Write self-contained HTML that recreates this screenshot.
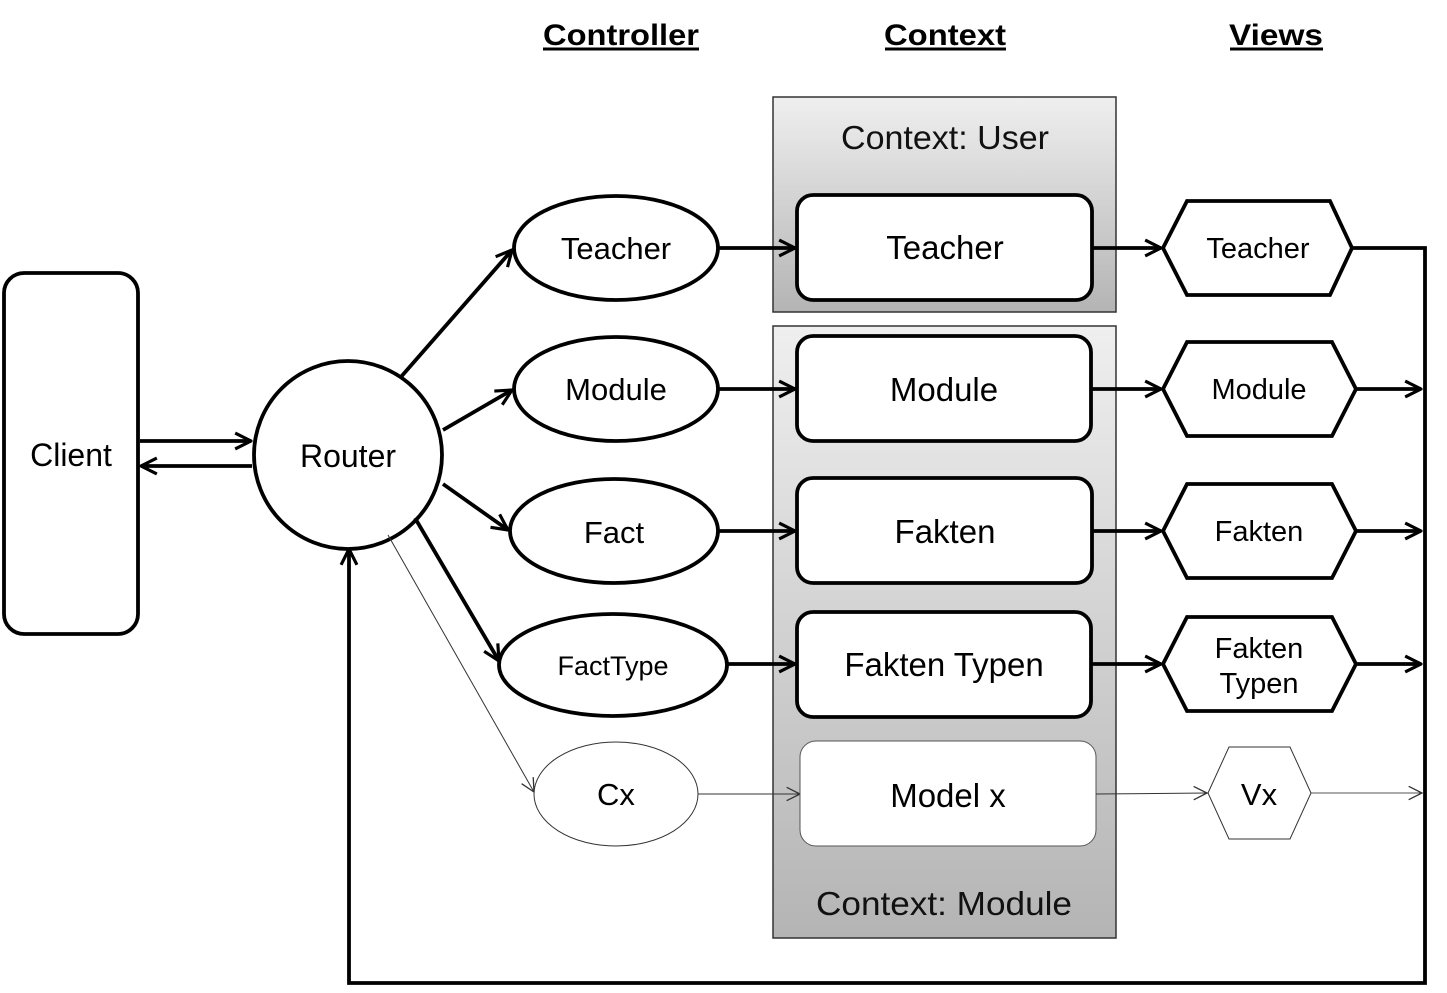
<!DOCTYPE html>
<html><head><meta charset="utf-8"><style>
html,body{margin:0;padding:0;background:#fff;}
svg{display:block;font-family:"Liberation Sans",sans-serif;}
</style></head><body>
<svg width="1447" height="993" viewBox="0 0 1447 993" xmlns="http://www.w3.org/2000/svg">
<defs>
<linearGradient id="g" x1="0" y1="0" x2="0" y2="1">
<stop offset="0" stop-color="#efefef"/><stop offset="1" stop-color="#b4b4b4"/>
</linearGradient>
<marker id="a" viewBox="0 0 12 12" refX="11" refY="6" markerWidth="5" markerHeight="5" orient="auto" markerUnits="strokeWidth">
<path d="M1,1 L11,6 L1,11" fill="none" stroke="#000" stroke-width="2"/>
</marker>
<marker id="t" viewBox="0 0 12 12" refX="11" refY="6" markerWidth="16" markerHeight="16" orient="auto" markerUnits="userSpaceOnUse">
<path d="M1,1 L11,6 L1,11" fill="none" stroke="#333" stroke-width="1"/>
</marker>
</defs>

<g font-weight="bold" font-size="30" text-anchor="middle">
<text x="621" y="45" textLength="156" lengthAdjust="spacingAndGlyphs">Controller</text>
<text x="945" y="45" textLength="122" lengthAdjust="spacingAndGlyphs">Context</text>
<text x="1276" y="45" textLength="94" lengthAdjust="spacingAndGlyphs">Views</text>
</g>
<g stroke="#000" stroke-width="3">
<line x1="543" y1="49" x2="699" y2="49"/>
<line x1="885" y1="49" x2="1006" y2="49"/>
<line x1="1230" y1="49" x2="1323" y2="49"/>
</g>

<rect x="773" y="97" width="343" height="215" fill="url(#g)" stroke="#333" stroke-width="1.5"/>
<rect x="773" y="326" width="343" height="612" fill="url(#g)" stroke="#333" stroke-width="1.5"/>
<text x="945" y="149" font-size="33" text-anchor="middle" fill="#111" textLength="208" lengthAdjust="spacingAndGlyphs">Context: User</text>
<text x="944" y="915" font-size="33" text-anchor="middle" fill="#111" textLength="256" lengthAdjust="spacingAndGlyphs">Context: Module</text>

<polyline points="1352,248 1425,248 1425,983 349,983 349,549" fill="none" stroke="#000" stroke-width="3.8" marker-end="url(#a)"/>

<rect x="4" y="273" width="134" height="361" rx="20" fill="#fff" stroke="#000" stroke-width="3.8"/>
<text x="71" y="466" font-size="32" text-anchor="middle">Client</text>
<line x1="140" y1="441" x2="251" y2="441" stroke="#000" stroke-width="3.8" marker-end="url(#a)"/>
<line x1="252" y1="466" x2="141" y2="466" stroke="#000" stroke-width="3.8" marker-end="url(#a)"/>

<circle cx="348" cy="455" r="94" fill="#fff" stroke="#000" stroke-width="3.8"/>
<text x="348" y="467" font-size="32" text-anchor="middle">Router</text>

<g stroke="#000" stroke-width="3.8" fill="none">
<line x1="400" y1="378" x2="512" y2="250" marker-end="url(#a)"/>
<line x1="443" y1="430" x2="512" y2="390" marker-end="url(#a)"/>
<line x1="443" y1="484" x2="508" y2="530" marker-end="url(#a)"/>
<line x1="415" y1="518" x2="499" y2="661" marker-end="url(#a)"/>
</g>
<line x1="388" y1="535" x2="534" y2="792" stroke="#333" stroke-width="1" marker-end="url(#t)"/>

<g fill="#fff" stroke="#000" stroke-width="3.8">
<ellipse cx="616" cy="248" rx="102" ry="52"/>
<ellipse cx="616" cy="389" rx="102" ry="52"/>
<ellipse cx="614" cy="531" rx="104" ry="52"/>
<ellipse cx="613" cy="665" rx="114" ry="51"/>
</g>
<ellipse cx="616" cy="794" rx="82" ry="52" fill="#fff" stroke="#333" stroke-width="1"/>
<g font-size="31" text-anchor="middle">
<text x="616" y="259">Teacher</text>
<text x="616" y="400">Module</text>
<text x="614" y="543">Fact</text>
<text x="613" y="675" font-size="27">FactType</text>
<text x="616" y="805">Cx</text>
</g>

<g stroke="#000" stroke-width="3.8" fill="none">
<line x1="718" y1="248" x2="795" y2="248" marker-end="url(#a)"/>
<line x1="718" y1="389" x2="795" y2="389" marker-end="url(#a)"/>
<line x1="718" y1="531" x2="795" y2="531" marker-end="url(#a)"/>
<line x1="727" y1="664" x2="795" y2="664" marker-end="url(#a)"/>
</g>
<line x1="698" y1="794" x2="800" y2="794" stroke="#333" stroke-width="1" marker-end="url(#t)"/>

<g fill="#fff" stroke="#000" stroke-width="3.8">
<rect x="797" y="195" width="295" height="105" rx="16"/>
<rect x="797" y="336" width="294" height="105" rx="16"/>
<rect x="797" y="478" width="295" height="105" rx="16"/>
<rect x="797" y="612" width="294" height="105" rx="16"/>
</g>
<rect x="800" y="741" width="296" height="105" rx="16" fill="#fff" stroke="#555" stroke-width="1"/>
<g font-size="33" text-anchor="middle">
<text x="945" y="259">Teacher</text>
<text x="944" y="401">Module</text>
<text x="945" y="543">Fakten</text>
<text x="944" y="676">Fakten Typen</text>
<text x="948" y="807">Model x</text>
</g>

<g stroke="#000" stroke-width="3.8" fill="none">
<line x1="1092" y1="248" x2="1161" y2="248" marker-end="url(#a)"/>
<line x1="1091" y1="389" x2="1161" y2="389" marker-end="url(#a)"/>
<line x1="1092" y1="531" x2="1161" y2="531" marker-end="url(#a)"/>
<line x1="1091" y1="664" x2="1161" y2="664" marker-end="url(#a)"/>
<line x1="1356" y1="389" x2="1421" y2="389" marker-end="url(#a)"/>
<line x1="1356" y1="531" x2="1421" y2="531" marker-end="url(#a)"/>
<line x1="1356" y1="664" x2="1421" y2="664" marker-end="url(#a)"/>
</g>
<line x1="1096" y1="794" x2="1207" y2="793" stroke="#333" stroke-width="1" marker-end="url(#t)"/>
<line x1="1311" y1="793" x2="1422" y2="793" stroke="#555" stroke-width="1" marker-end="url(#t)"/>

<g fill="#fff" stroke="#000" stroke-width="3.8">
<polygon points="1163,248 1187,201 1330,201 1352,248 1330,295 1187,295"/>
<polygon points="1163,389 1187,342 1332,342 1356,389 1332,436 1187,436"/>
<polygon points="1163,531 1187,484 1332,484 1356,531 1332,578 1187,578"/>
<polygon points="1163,664 1187,617 1332,617 1356,664 1332,711 1187,711"/>
</g>
<polygon points="1208,793 1229,747 1290,747 1311,793 1290,839 1229,839" fill="#fff" stroke="#333" stroke-width="1"/>
<g font-size="29" text-anchor="middle">
<text x="1258" y="258">Teacher</text>
<text x="1259" y="399">Module</text>
<text x="1259" y="541">Fakten</text>
<text x="1259" y="658">Fakten</text>
<text x="1259" y="693">Typen</text>
<text x="1259" y="805" font-size="31">Vx</text>
</g>
</svg>
</body></html>
